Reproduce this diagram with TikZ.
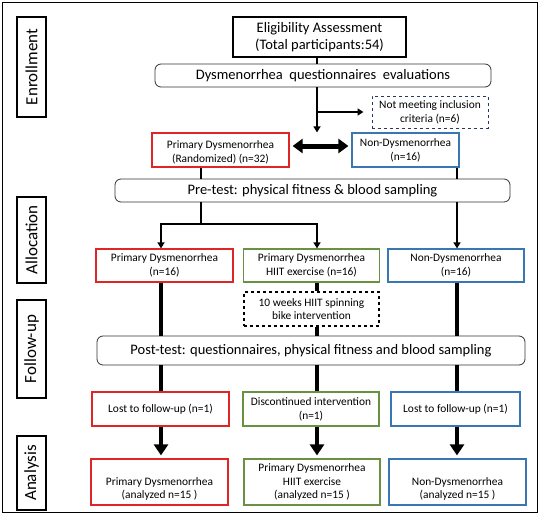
\documentclass[tikz,border=0pt]{standalone}
\usepackage{fontspec}
\setmainfont{Carlito}
\usetikzlibrary{arrows.meta}
\definecolor{pdred}{RGB}{222,38,38}
\definecolor{hiitgreen}{RGB}{104,146,66}
\definecolor{ndblue}{RGB}{58,118,178}
\definecolor{navy}{RGB}{40,56,100}
\begin{document}
\begin{tikzpicture}[x=1pt,y=-1pt]
    \tikzstyle{box}=[draw,line width=1.2pt,inner sep=1pt,align=center,font=\fontsize{11.4}{13.8}\selectfont]
    \tikzstyle{redbox}=[box,draw=pdred,minimum width=137pt]
    \tikzstyle{greenbox}=[box,draw=hiitgreen,minimum width=136pt]
    \tikzstyle{bluebox}=[box,draw=ndblue]
    \tikzstyle{wide}=[draw=black!80,line width=0.8pt,rounded corners=6pt,fill=white,inner sep=1pt,font=\fontsize{14.5}{17}\selectfont]
    \tikzstyle{phase}=[draw,line width=2pt,rotate=90,minimum height=29pt,inner sep=1pt,font=\fontsize{17}{19}\selectfont]
    \tikzstyle{thin}=[line width=2pt,-{Triangle[length=6pt,width=7pt]}]
    \tikzstyle{thick}=[line width=4pt]
    \tikzstyle{thickarrow}=[line width=4pt,-{Triangle[length=11pt,width=14pt]}]
    \draw[line width=1pt] (2,2) rectangle (537,512);
    \useasboundingbox (0,0) rectangle (539,514);
    \node[phase,minimum width=100pt] (enroll) at (31.5,67) {Enrollment};
    \node[phase,minimum width=86pt] (alloc) at (31.5,240) {Allocation};
    \node[phase,minimum width=98pt] (follow) at (31.5,349) {Follow-up};
    \node[phase,minimum width=74pt] (analysis) at (31.5,473) {Analysis};
    \coordinate (c0) at (201,0);
    \coordinate (c1) at (161,0);
    \coordinate (c2) at (317,0);
    \coordinate (c3) at (457,0);
    \coordinate (split) at (0,224);
    \node[draw,line width=1.6pt,minimum width=173pt,minimum height=40pt,align=center,inner sep=1pt,font=\fontsize{14.5}{16.5}\selectfont] (elig) at (319.5,37) {Eligibility Assessment\\(Total participants:54)};
    \node[wide,minimum width=336pt,minimum height=23pt] (quest) at (323,75.5) {Dysmenorrhea\ \ questionnaires\ \ evaluations};
    \node[box,draw=navy,dashed,line width=1pt,minimum width=116pt,minimum height=32pt] (notmeet) at (430,112) {Not meeting inclusion\\criteria (n=6)};
    \node[redbox,minimum height=34pt] (pdrand) at (220.5,150) {\rule{0pt}{13pt}Primary Dysmenorrhea\\(Randomized) (n=32)};
    \node[bluebox,minimum width=107pt,minimum height=34pt] (nondys) at (405.5,150) {Non-Dysmenorrhea\\(n=16)};
    \node[wide,minimum width=395pt,minimum height=23pt] (pretest) at (312.5,190.5) {Pre-test: physical fitness \& blood sampling};
    \node[redbox,minimum height=33pt] (pd16) at (164.5,265.5) {Primary Dysmenorrhea\\(n=16)};
    \node[greenbox,minimum height=33pt] (hiit) at (311.5,265.5) {Primary Dysmenorrhea\\HIIT exercise (n=16)};
    \node[bluebox,minimum width=136pt,minimum height=33pt] (nd16) at (456,265.5) {Non-Dysmenorrhea\\(n=16)};
    \node[box,dashed,minimum width=135pt,minimum height=34pt] (weeks) at (311.5,309) {10 weeks HIIT spinning\\bike intervention};
    \node[wide,minimum width=428pt,minimum height=29pt] (posttest) at (311,350.5) {Post-test: questionnaires, physical fitness and blood sampling};
    \node[redbox,minimum height=34pt] (lost1) at (160.5,409) {Lost to follow-up (n=1)};
    \node[greenbox,minimum height=34pt] (disc) at (311,409) {Discontinued intervention\\(n=1)};
    \node[bluebox,minimum width=129pt,minimum height=34pt] (lost2) at (455.5,409) {Lost to follow-up (n=1)};
    \node[redbox,minimum height=46pt] (an1) at (159.5,482) {\rule{0pt}{22pt}Primary Dysmenorrhea\\(analyzed n=15 )};
    \node[greenbox,minimum height=46pt] (an2) at (312,482) {Primary Dysmenorrhea\\HIIT exercise\\(analyzed n=15 )};
    \node[bluebox,minimum width=137pt,minimum height=46pt] (an3) at (457.5,482) {\rule{0pt}{22pt}Non-Dysmenorrhea\\(analyzed n=15 )};
    \draw[line width=2pt] (elig.south -| c2) -- (quest.north -| c2);
    \draw[thin] (quest.south -| c2) -- (pdrand.north -| c2);
    \draw[thin,shorten >=8pt] (notmeet.west -| c2) -- (notmeet.west);
    \draw[line width=5pt,{Triangle[length=10pt,width=14pt]}-{Triangle[length=10pt,width=14pt]},shorten <=3pt,shorten >=3pt] ([yshift=4pt]pdrand.east) -- ([yshift=4pt]pdrand.east -| nondys.west);
    \draw[line width=2pt] (pdrand.south -| c0) -- (pretest.north -| c0);
    \draw[line width=2pt] (nondys.south -| c3) -- (pretest.north -| c3);
    \draw[thin] (pretest.south -| c0) -- (split -| c0) -| (pd16.north -| c1);
    \draw[thin] (split -| c0) -| (hiit.north -| c2);
    \draw[thin] (pretest.south -| c3) -- (nd16.north -| c3);
    \draw[thick] (pd16.south -| c1) -- (posttest.north -| c1);
    \draw[thick] (hiit.south -| c2) -- (weeks.north -| c2);
    \draw[thick] (weeks.south -| c2) -- (posttest.north -| c2);
    \draw[thick] (nd16.south -| c3) -- (posttest.north -| c3);
    \draw[thick] (posttest.south -| c1) -- (lost1.north -| c1);
    \draw[thick] (posttest.south -| c2) -- (disc.north -| c2);
    \draw[thick] (posttest.south -| c3) -- (lost2.north -| c3);
    \draw[thickarrow] (lost1.south -| c1) -- ([yshift=3pt]an1.north -| c1);
    \draw[thickarrow] (disc.south -| c2) -- ([yshift=3pt]an2.north -| c2);
    \draw[thickarrow] (lost2.south -| c3) -- ([yshift=3pt]an3.north -| c3);
\end{tikzpicture}
\end{document}
